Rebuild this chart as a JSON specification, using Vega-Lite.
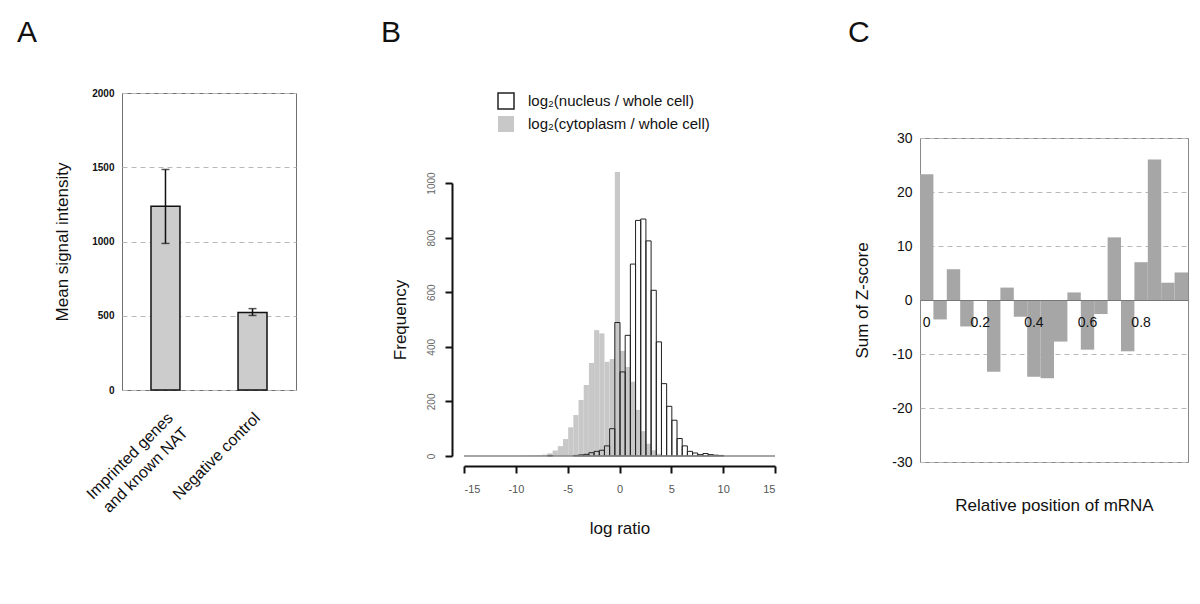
{
  "$schema": "https://vega.github.io/schema/vega-lite/v6.json",
  "padding": {"left": 17, "top": 18, "right": 5, "bottom": 5},
  "background": "white",
  "config": {
    "font": "Liberation Sans",
    "view": {"stroke": null},
    "axis": {"titleFontWeight": "normal", "titleColor": "#111", "labelColor": "#111"},
    "title": {"fontWeight": "normal", "fontSize": 30, "anchor": "start", "frame": "group", "baseline": "alphabetic", "color": "#111"}
  },
  "spacing": 0,
  "bounds": "full",
  "resolve": {"legend": {"fill": "independent", "stroke": "independent"}},
  "hconcat": [
    {
      "vconcat": [
        {
          "title": {"text": "A", "dx": -105, "offset": 8},
          "width": 259, "height": 37,
          "data": {"values": []},
          "mark": "point"
        },
        {
          "width": 174, "height": 297,
          "view": {"stroke": "#707070", "strokeWidth": 1},
          "data": {"values": [
            {"group": "Imprinted genes and known NAT", "mean": 1237, "low": 987, "high": 1485},
            {"group": "Negative control", "mean": 522, "low": 502, "high": 548}
          ]},
          "encoding": {
            "x": {"field": "group", "type": "nominal", "sort": null,
              "scale": {"paddingInner": 0.667, "paddingOuter": 0.333},
              "axis": {"title": null, "labelAngle": -45, "labelAlign": "right", "labelBaseline": "middle",
                "labelFontSize": 16, "labelPadding": 25, "labelOffset": 5, "ticks": false, "domain": false,
                "labelLineHeight": 21, "labelLimit": 0,
                "labelExpr": "datum.label == 'Imprinted genes and known NAT' ? ['Imprinted genes', 'and known NAT'] : datum.label"}
            }
          },
          "layer": [
            {
              "mark": {"type": "bar", "fill": "#cccccc", "stroke": "#111", "strokeWidth": 1.5},
              "encoding": {
                "y": {"field": "mean", "type": "quantitative", "scale": {"domain": [0, 2000], "nice": false},
                  "axis": {"values": [0, 500, 1000, 1500, 2000], "format": "d", "title": "Mean signal intensity", "titleFontSize": 17,
                    "titlePadding": 20, "labelFontSize": 10, "labelFontWeight": "bold", "labelPadding": 8,
                    "ticks": false, "domain": false, "grid": true, "gridDash": [5, 4], "gridColor": "#b8b8b8"}}
              }
            },
            {
              "mark": {"type": "rule", "strokeWidth": 1.5, "color": "#111"},
              "encoding": {
                "y": {"field": "low", "type": "quantitative", "title": "Mean signal intensity"},
                "y2": {"field": "high"}
              }
            },
            {
              "mark": {"type": "tick", "size": 8, "thickness": 1.5, "color": "#111"},
              "encoding": {"y": {"field": "low", "type": "quantitative", "title": "Mean signal intensity"}}
            },
            {
              "mark": {"type": "tick", "size": 8, "thickness": 1.5, "color": "#111"},
              "encoding": {"y": {"field": "high", "type": "quantitative", "title": "Mean signal intensity"}}
            }
          ]
        }
      ],
      "spacing": 0,
      "bounds": "flush"
    },
    {
      "vconcat": [
        {
          "title": {"text": "B", "dx": -83, "offset": 8},
          "width": 384, "height": 127,
          "data": {"values": []},
          "mark": "point"
        },
        {
          "width": 311, "height": 273,
          "layer": [
            {
              "data": {"values": [
                {"s": "cytoplasm", "start": -9.5, "end": -9, "count": 1},
                {"s": "cytoplasm", "start": -9, "end": -8.5, "count": 2},
                {"s": "cytoplasm", "start": -8.5, "end": -8, "count": 2},
                {"s": "cytoplasm", "start": -8, "end": -7.5, "count": 3},
                {"s": "cytoplasm", "start": -7.5, "end": -7, "count": 5},
                {"s": "cytoplasm", "start": -7, "end": -6.5, "count": 10},
                {"s": "cytoplasm", "start": -6.5, "end": -6, "count": 20},
                {"s": "cytoplasm", "start": -6, "end": -5.5, "count": 36},
                {"s": "cytoplasm", "start": -5.5, "end": -5, "count": 62},
                {"s": "cytoplasm", "start": -5, "end": -4.5, "count": 105},
                {"s": "cytoplasm", "start": -4.5, "end": -4, "count": 150},
                {"s": "cytoplasm", "start": -4, "end": -3.5, "count": 205},
                {"s": "cytoplasm", "start": -3.5, "end": -3, "count": 260},
                {"s": "cytoplasm", "start": -3, "end": -2.5, "count": 341},
                {"s": "cytoplasm", "start": -2.5, "end": -2, "count": 461},
                {"s": "cytoplasm", "start": -2, "end": -1.5, "count": 449},
                {"s": "cytoplasm", "start": -1.5, "end": -1, "count": 345},
                {"s": "cytoplasm", "start": -1, "end": -0.5, "count": 355},
                {"s": "cytoplasm", "start": -0.5, "end": 0, "count": 1040},
                {"s": "cytoplasm", "start": 0, "end": 0.5, "count": 385},
                {"s": "cytoplasm", "start": 0.5, "end": 1, "count": 326},
                {"s": "cytoplasm", "start": 1, "end": 1.5, "count": 272},
                {"s": "cytoplasm", "start": 1.5, "end": 2, "count": 169},
                {"s": "cytoplasm", "start": 2, "end": 2.5, "count": 91},
                {"s": "cytoplasm", "start": 2.5, "end": 3, "count": 45},
                {"s": "cytoplasm", "start": 3, "end": 3.5, "count": 21},
                {"s": "cytoplasm", "start": 3.5, "end": 4, "count": 8},
                {"s": "cytoplasm", "start": 4, "end": 4.5, "count": 3},
                {"s": "cytoplasm", "start": 4.5, "end": 5, "count": 1},
                {"s": "nucleus", "start": -7, "end": -6.5, "count": 2},
                {"s": "nucleus", "start": -4.5, "end": -4, "count": 2},
                {"s": "nucleus", "start": -4, "end": -3.5, "count": 4},
                {"s": "nucleus", "start": -3.5, "end": -3, "count": 6},
                {"s": "nucleus", "start": -3, "end": -2.5, "count": 12},
                {"s": "nucleus", "start": -2.5, "end": -2, "count": 17},
                {"s": "nucleus", "start": -2, "end": -1.5, "count": 21},
                {"s": "nucleus", "start": -1.5, "end": -1, "count": 37},
                {"s": "nucleus", "start": -1, "end": -0.5, "count": 100},
                {"s": "nucleus", "start": -0.5, "end": 0, "count": 489},
                {"s": "nucleus", "start": 0, "end": 0.5, "count": 308},
                {"s": "nucleus", "start": 0.5, "end": 1, "count": 442},
                {"s": "nucleus", "start": 1, "end": 1.5, "count": 703},
                {"s": "nucleus", "start": 1.5, "end": 2, "count": 863},
                {"s": "nucleus", "start": 2, "end": 2.5, "count": 868},
                {"s": "nucleus", "start": 2.5, "end": 3, "count": 788},
                {"s": "nucleus", "start": 3, "end": 3.5, "count": 607},
                {"s": "nucleus", "start": 3.5, "end": 4, "count": 418},
                {"s": "nucleus", "start": 4, "end": 4.5, "count": 265},
                {"s": "nucleus", "start": 4.5, "end": 5, "count": 182},
                {"s": "nucleus", "start": 5, "end": 5.5, "count": 131},
                {"s": "nucleus", "start": 5.5, "end": 6, "count": 64},
                {"s": "nucleus", "start": 6, "end": 6.5, "count": 37},
                {"s": "nucleus", "start": 6.5, "end": 7, "count": 17},
                {"s": "nucleus", "start": 7, "end": 7.5, "count": 11},
                {"s": "nucleus", "start": 7.5, "end": 8, "count": 5},
                {"s": "nucleus", "start": 8, "end": 8.5, "count": 9},
                {"s": "nucleus", "start": 8.5, "end": 9, "count": 5},
                {"s": "nucleus", "start": 9, "end": 9.5, "count": 3},
                {"s": "nucleus", "start": 9.5, "end": 10, "count": 2}
              ]},
              "mark": {"type": "bar", "strokeWidth": 1, "binSpacing": 0},
              "encoding": {
                "x": {"field": "start", "type": "quantitative", "bin": {"binned": true, "step": 0.5},
                  "scale": {"domain": [-15, 15], "nice": false},
                  "axis": {"values": [-15, -10, -5, 0, 5, 10, 15], "labelExpr": "'' + datum.value", "offset": 10,
                    "domainColor": "#111", "domainWidth": 2, "tickColor": "#111", "tickWidth": 2, "tickSize": 7,
                    "labelColor": "#555", "labelFontSize": 11, "labelPadding": 10, "grid": false,
                    "title": "log ratio", "titleFontSize": 17, "titlePadding": 26}},
                "x2": {"field": "end"},
                "y": {"field": "count", "type": "quantitative", "stack": null,
                  "scale": {"domain": [0, 1000], "nice": false},
                  "axis": {"values": [0, 200, 400, 600, 800, 1000], "format": "d", "offset": 12,
                    "domainColor": "#111", "domainWidth": 2, "tickColor": "#111", "tickWidth": 2, "tickSize": 7,
                    "labelAngle": -90, "labelAlign": "center", "labelBaseline": "bottom",
                    "labelColor": "#666", "labelFontSize": 10, "labelPadding": 9, "grid": false,
                    "title": "Frequency", "titleFontSize": 17, "titlePadding": 17}},
                "fill": {"field": "s", "type": "nominal",
                  "scale": {"domain": ["nucleus", "cytoplasm"], "range": ["transparent", "#c8c8c8"]},
                  "legend": {"orient": "none", "legendX": 33, "legendY": -91, "padding": 0, "title": null, "symbolType": "square",
                    "symbolSize": 256, "symbolStrokeWidth": 1.5, "labelFontSize": 15, "labelColor": "#111", "labelLimit": 0,
                    "rowPadding": 1, "labelOffset": 13,
                    "labelExpr": "datum.label == 'nucleus' ? 'log₂(nucleus / whole cell)' : 'log₂(cytoplasm / whole cell)'"}},
                "stroke": {"field": "s", "type": "nominal",
                  "scale": {"domain": ["nucleus", "cytoplasm"], "range": ["#222222", "transparent"]},
                  "legend": {"orient": "none", "legendX": 33, "legendY": -91, "padding": 0, "title": null, "symbolType": "square",
                    "symbolSize": 256, "symbolStrokeWidth": 1.5, "labelFontSize": 15, "labelColor": "#111", "labelLimit": 0,
                    "rowPadding": 1, "labelOffset": 13,
                    "labelExpr": "datum.label == 'nucleus' ? 'log₂(nucleus / whole cell)' : 'log₂(cytoplasm / whole cell)'"}}
              }
            },
            {
              "data": {"values": [{"base": 0}]},
              "mark": {"type": "rule", "color": "#888888", "strokeWidth": 1.5},
              "encoding": {"y": {"field": "base", "type": "quantitative"}}
            }
          ]
        }
      ],
      "spacing": 0,
      "bounds": "flush",
      "resolve": {"legend": {"fill": "independent", "stroke": "independent"}}
    },
    {
      "vconcat": [
        {
          "title": {"text": "C", "dx": -72, "offset": 8},
          "width": 268, "height": 82,
          "data": {"values": []},
          "mark": "point"
        },
        {
          "width": 268, "height": 324,
          "view": {"stroke": "#888888", "strokeWidth": 1},
          "data": {"values": [
            {"pos": "0", "z": 23.3},
            {"pos": "0.05", "z": -3.6},
            {"pos": "0.1", "z": 5.7},
            {"pos": "0.15", "z": -4.9},
            {"pos": "0.2", "z": 0},
            {"pos": "0.25", "z": -13.3},
            {"pos": "0.3", "z": 2.3},
            {"pos": "0.35", "z": -3.1},
            {"pos": "0.4", "z": -14.2},
            {"pos": "0.45", "z": -14.5},
            {"pos": "0.5", "z": -7.7},
            {"pos": "0.55", "z": 1.4},
            {"pos": "0.6", "z": -9.2},
            {"pos": "0.65", "z": -2.6},
            {"pos": "0.7", "z": 11.6},
            {"pos": "0.75", "z": -9.5},
            {"pos": "0.8", "z": 7.0},
            {"pos": "0.85", "z": 26.0},
            {"pos": "0.9", "z": 3.2},
            {"pos": "0.95", "z": 5.1}
          ]},
          "mark": {"type": "bar", "fill": "#a6a6a6"},
          "encoding": {
            "x": {"field": "pos", "type": "ordinal", "sort": null,
              "scale": {"paddingInner": 0, "paddingOuter": 0},
              "axis": {"orient": "bottom", "offset": -162, "zindex": 1, "labelAngle": 0, "labelAlign": "center",
                "labelFontSize": 14, "labelPadding": 15, "ticks": false, "domainColor": "#777777",
                "labelExpr": "indexof(['0', '0.2', '0.4', '0.6', '0.8'], datum.label) >= 0 ? datum.label : ''",
                "title": "Relative position of mRNA", "titleFontSize": 17, "titleBaseline": "middle", "titleY": 205}},
            "y": {"field": "z", "type": "quantitative", "scale": {"domain": [-30, 30], "nice": false},
              "axis": {"values": [-30, -20, -10, 0, 10, 20, 30], "labelExpr": "'' + datum.value", "ticks": false, "domain": false,
                "labelFontSize": 14, "labelPadding": 8, "grid": true, "gridDash": [5, 4], "gridColor": "#b8b8b8",
                "title": "Sum of Z-score", "titleFontSize": 17, "titlePadding": 20}}
          }
        }
      ],
      "spacing": 0,
      "bounds": "flush"
    }
  ]
}
